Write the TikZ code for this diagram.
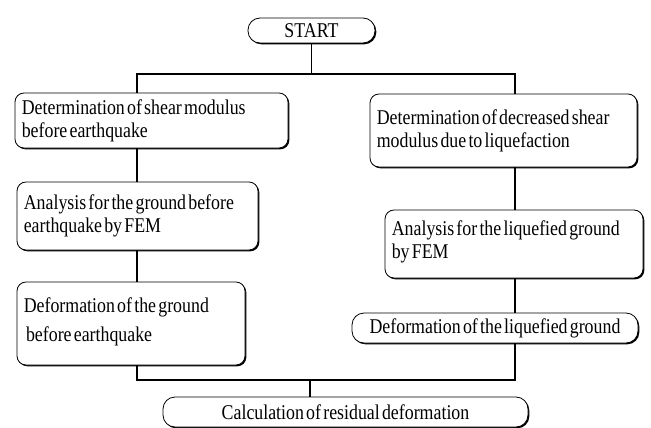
\documentclass[tikz,border=0pt]{standalone}
\usepackage{fontspec}
\setmainfont[FakeStretch=0.85, WordSpace=0.5]{Liberation Serif}
\usetikzlibrary{shadows}
\tikzset{
  box/.style={draw, line width=0.8pt, fill=white, rounded corners=9pt,
    drop shadow={shadow xshift=1.3pt, shadow yshift=-1.3pt, opacity=1, fill=black},
    inner sep=0pt},
  pill/.style={box, rounded corners=12pt, align=center,
    font=\fontsize{21}{23}\selectfont},
  txt/.style={anchor=west, align=left, inner sep=0pt,
    font=\fontsize{21}{23}\selectfont},
  conn/.style={line width=1.2pt}
}
\begin{document}
\begin{tikzpicture}[x=1pt,y=-1pt]
\useasboundingbox (0,0) rectangle (651,428);
% boxes (centres in pixel coordinates)
\node[pill, minimum width=127pt, minimum height=25pt] (start) at (311.5,30.5) {START};
\node[box, minimum width=273pt, minimum height=55pt] (l1) at (151.5,120.5) {};
\node[box, minimum width=241pt, minimum height=68pt] (l2) at (137.5,216) {};
\node[box, minimum width=228pt, minimum height=83pt] (l3) at (131,323.5) {};
\node[box, minimum width=267pt, minimum height=73pt] (r1) at (503.5,130.5) {};
\node[box, minimum width=258pt, minimum height=68pt] (r2) at (514,244) {};
\node[pill, minimum width=286pt, minimum height=30pt] (r3) at (495,328)
  {Deformation of the liquefied ground};
\node[pill, minimum width=365pt, minimum height=30pt] (bot) at (345.5,412)
  {Calculation of residual deformation};
% texts in the boxes
\node[txt] (l1t) at ([xshift=7pt]l1.west) {Determination of shear modulus\\before earthquake};
\node[txt] (l2t) at ([xshift=7pt]l2.west) {Analysis for the ground before\\earthquake by FEM};
\node[txt] (l3t) at ([xshift=7pt,yshift=2pt]l3.west) {Deformation of the ground\\[6pt]\ before earthquake};
\node[txt] (r1t) at ([xshift=7pt]r1.west) {Determination of decreased shear\\modulus due to liquefaction};
\node[txt] (r2t) at ([xshift=7pt,yshift=2pt]r2.west) {Analysis for the liquefied ground\\by FEM};
% junctions
\coordinate (tl) at (137,74);
\coordinate (tr) at (515,74);
\coordinate (bl) at (137,380);
\coordinate (br) at (515,380);
\coordinate (bm) at (310,380);
% connectors
\draw[conn] (start.south) -- (start.south |- tl);
\draw[conn] (tl |- l1.north) -- (tl) -- (tr) -- (tr |- r1.north);
\draw[conn] (l1.south -| tl) -- (l2.north -| tl);
\draw[conn] (l2.south -| tl) -- (l3.north -| tl);
\draw[conn] (r1.south -| tr) -- (r2.north -| tr);
\draw[conn] (r2.south -| tr) -- (r3.north -| tr);
\draw[conn] (l3.south -| bl) -- (bl) -- (br) -- (r3.south -| br);
\draw[conn] (bm) -- (bot.north -| bm);
\end{tikzpicture}
\end{document}
